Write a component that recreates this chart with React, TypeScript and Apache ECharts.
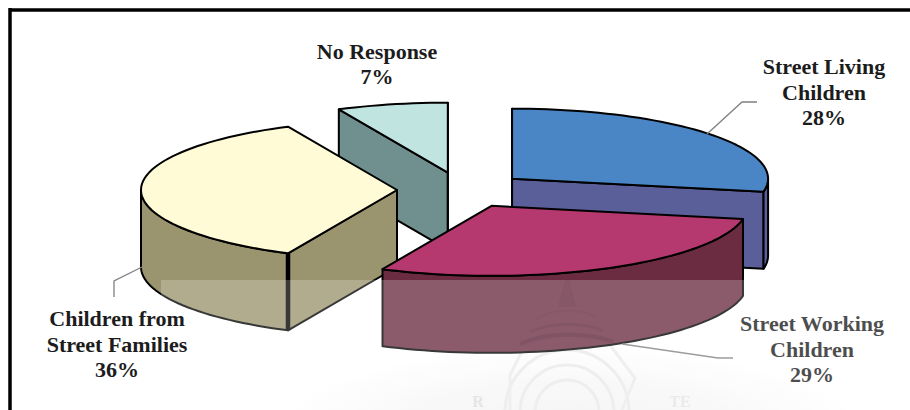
import React, { useEffect, useRef } from "react";
import * as echarts from "echarts";

// Survey shares, clockwise from twelve o'clock.
const categories = ["Street Living\nChildren", "Street Working\nChildren", "Children from\nStreet Families", "No Response"];
const shares = [28, 29, 36, 7];
const topColors = ["#4a86c6", "#b5386f", "#fffbd6", "#c0e4e0"];
const wallColors = ["#5a5f9a", "#6b2c42", "#9b956f", "#70908f"];
const paintRank = [1, 3, 2, 0];
const cornerWidths = [2, 2, 4.5, 2];

// Projected pie geometry.
const PIE = { cx: 462, cy: 190, rx: 256, ry: 70, depth: 77, explode: 65 };

const labelAnchors = [
  { x: 824, y: 92, z: 10 },
  { x: 812, y: 349, z: 10 },
  { x: 117, y: 344, z: 40 },
  { x: 377, y: 64, z: 10 },
];
const leaderLines = [
  [[707, 134], [742, 102], [757, 102]],
  [[622, 344], [718, 358], [733, 358]],
  [[142, 267], [114, 281], [114, 297]],
];

const rad = (deg: number) => (deg * Math.PI) / 180;
const project = (c: number[], deg: number, dy = 0) => [
  c[0] + PIE.rx * Math.sin(rad(deg)),
  c[1] - PIE.ry * Math.cos(rad(deg)) + dy,
];

function arcPoints(c: number[], from: number, to: number, dy = 0) {
  const pts: number[][] = [];
  const steps = Math.max(2, Math.ceil((to - from) / 2));
  for (let i = 0; i <= steps; i++) pts.push(project(c, from + ((to - from) * i) / steps, dy));
  return pts;
}

function renderSlice(params: any, api: any) {
  const i = params.dataIndex;
  const total = shares.reduce((a, b) => a + b, 0);
  const start = (shares.slice(0, i).reduce((a, b) => a + b, 0) / total) * 360;
  const end = start + (api.value(0) / total) * 360;
  const mid = (start + end) / 2;
  const c = [
    PIE.cx + PIE.explode * Math.sin(rad(mid)),
    PIE.cy - (PIE.explode * PIE.ry * Math.cos(rad(mid))) / PIE.rx,
  ];
  const base = paintRank[i] * 10;
  const edge = { stroke: "#000", lineWidth: 2, lineJoin: "round" };
  const wall = { ...edge, fill: wallColors[i] };
  const children: any[] = [];
  // A cut face is drawn only when its outward normal turns towards the viewer.
  const cutFace = (deg: number, normal: number) => {
    if (Math.cos(rad(normal)) > 1e-6) return;
    const p = project(c, deg);
    children.push({
      type: "polygon",
      z2: base + 1,
      shape: { points: [c, p, [p[0], p[1] + PIE.depth], [c[0], c[1] + PIE.depth]] },
      style: wall,
    });
  };
  cutFace(start, start - 90);
  cutFace(end, end + 90);
  // Only the stretch of rim between 3 and 9 o'clock faces the viewer.
  const a = Math.max(start, 90);
  const b = Math.min(end, 270);
  if (b > a) {
    const upper = arcPoints(c, a, b);
    const lower = arcPoints(c, a, b, PIE.depth).reverse();
    children.push({
      type: "polygon",
      z2: base + 2,
      shape: { points: [...upper, ...lower] },
      style: wall,
    });
  }
  children.push({
    type: "polygon",
    z2: base + 3,
    shape: { points: [c, ...arcPoints(c, start, end)] },
    style: { ...edge, fill: topColors[i] },
  });
  if (cornerWidths[i] > 2) {
    const p = project(c, start);
    children.push({
      type: "line",
      z2: base + 4,
      shape: { x1: p[0], y1: p[1], x2: p[0], y2: p[1] + PIE.depth },
      style: { stroke: "#000", lineWidth: cornerWidths[i] },
    });
  }
  return { type: "group", children };
}

// Faint institutional seal and paper haze at the foot of the page.
const sealArcs = [62, 47, 32];
const sealBack: any[] = [
  {
    type: "ellipse",
    z: 0,
    shape: { cx: 570, cy: 440, rx: 300, ry: 95 },
    style: {
      fill: new echarts.graphic.RadialGradient(0.5, 0.5, 0.5, [
        { offset: 0, color: "#f1f1f1" },
        { offset: 0.6, color: "#f7f7f7" },
        { offset: 1, color: "#ffffff" },
      ]),
    },
  },
  ...sealArcs.map((r) => ({
    type: "arc",
    z: 0,
    shape: { cx: 567, cy: 412, r, startAngle: Math.PI, endAngle: 2 * Math.PI },
    style: { stroke: "#e9e9e9", lineWidth: 3, fill: "none" },
  })),
  {
    type: "polyline",
    z: 0,
    shape: { points: [[510, 410], [510, 375], [525, 345], [610, 345], [635, 378], [622, 410]] },
    style: { stroke: "#ebebeb", lineWidth: 3, fill: "none" },
  },
  { type: "text", z: 0, x: 478, y: 401, style: { text: "R", font: "bold 16px 'Liberation Serif'", fill: "#dedede", textAlign: "center", textVerticalAlign: "middle" } },
  { type: "text", z: 0, x: 680, y: 401, style: { text: "TE", font: "bold 16px 'Liberation Serif'", fill: "#e4e4e4", textAlign: "center", textVerticalAlign: "middle" } },
];

const domeCurves = [
  [[520, 344], [545, 332], [590, 332], [613, 342]],
  [[530, 332], [550, 322], [585, 322], [603, 331]],
  [[536, 319], [552, 308], [582, 308], [598, 318]],
];
const sealFront: any[] = [
  {
    type: "polygon",
    z: 20,
    shape: { points: [[565, 280], [569, 280], [576, 307], [558, 307]] },
    style: { fill: "rgba(50,15,30,0.13)" },
  },
  ...domeCurves.map((p, i) => ({
    type: "bezierCurve",
    z: 20,
    shape: { x1: p[0][0], y1: p[0][1], cpx1: p[1][0], cpy1: p[1][1], cpx2: p[2][0], cpy2: p[2][1], x2: p[3][0], y2: p[3][1] },
    style: { stroke: `rgba(50,15,30,${0.24 - i * 0.07})`, lineWidth: 4 - i, fill: "none" },
  })),
];

export default function App() {
  const ref = useRef<HTMLDivElement>(null);
  useEffect(() => {
    document.body.style.margin = "0";
    document.body.style.overflow = "hidden";
    const chart = echarts.init(ref.current!, undefined, { renderer: "svg" });
    chart.setOption({
      animation: false,
      backgroundColor: "#ffffff",
      series: [
        {
          type: "custom",
          coordinateSystem: "none",
          silent: true,
          z: 5,
          data: shares.map((v) => [v]),
          renderItem: renderSlice,
        },
      ],
      graphic: {
        elements: [
          ...sealBack,
          // page frame
          { type: "line", z: 10, shape: { x1: 10, y1: 10, x2: 910, y2: 10 }, style: { stroke: "#000", lineWidth: 3.5 } },
          { type: "line", z: 10, shape: { x1: 10, y1: 8, x2: 10, y2: 410 }, style: { stroke: "#000", lineWidth: 3.5 } },
          ...leaderLines.map((points) => ({
            type: "polyline",
            z: 10,
            shape: { points },
            style: { stroke: "#808080", lineWidth: 1.3, fill: "none" },
          })),
          ...categories.map((name, i) => ({
            type: "text",
            z: labelAnchors[i].z,
            x: labelAnchors[i].x,
            y: labelAnchors[i].y,
            style: {
              text: `${name}\n${shares[i]}%`,
              font: "bold 22px 'Liberation Serif'",
              lineHeight: 25.5,
              fill: "#1c1c1c",
              textAlign: "center",
              textVerticalAlign: "middle",
            },
          })),
          ...sealFront,
          // translucent scan band washing out the lower part
          { type: "rect", z: 30, shape: { x: 161, y: 280, width: 749, height: 130 }, style: { fill: "rgba(255,255,255,0.22)" } },
        ],
      },
    });
    return () => chart.dispose();
  }, []);
  return <div ref={ref} style={{ position: "fixed", left: 0, top: 0, width: 910, height: 410 }} />;
}
